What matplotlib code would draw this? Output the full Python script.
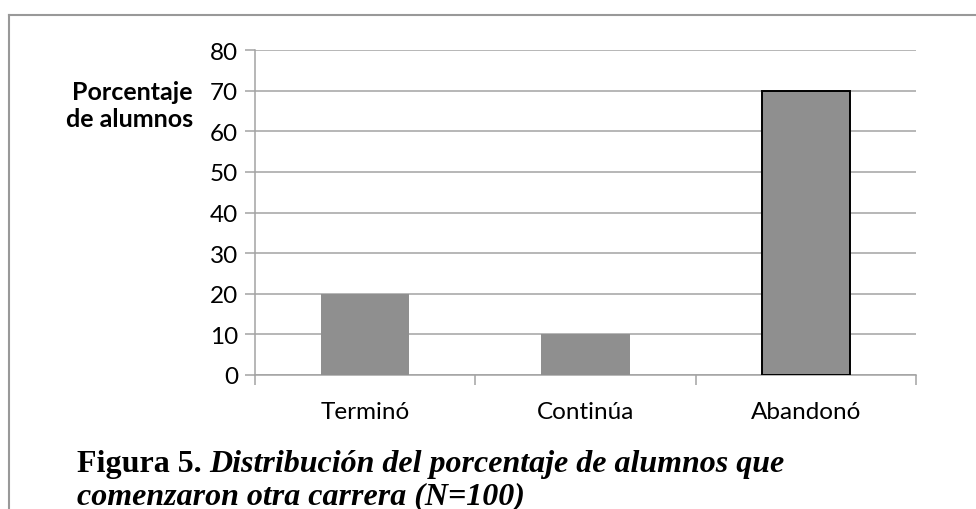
import matplotlib
matplotlib.use('Agg')
import matplotlib.pyplot as plt
from matplotlib.lines import Line2D
import numpy as np

Categorias   = ['Terminó', 'Continúa', 'Abandonó']
Porcentaje   = [20, 10, 70]
Bordes       = ['none', 'none', 'black']
YTicks       = [0, 10, 20, 30, 40, 50, 60, 70, 80]

gridColor = '#a3a3a3'
barColor  = '#8f8f8f'

plt.rcParams['font.family'] = ['Lato', 'DejaVu Sans']

fig = plt.figure(figsize=(9.76, 5.10), dpi=100)
fig.patch.set_facecolor('white')

# marco gris del recuadro (se corta a la derecha y abajo)
fig.add_artist(Line2D([9/976, 1.0], [1-16/510, 1-16/510], transform=fig.transFigure, color='#999999', lw=1.5))
fig.add_artist(Line2D([9/976, 9/976], [1-16/510, 0.0], transform=fig.transFigure, color='#999999', lw=1.5))

ax = fig.add_axes([255/976, 1-376/510, (916-255)/976, (376-51)/510])

x = np.arange(len(Categorias))
for i in range(len(Categorias)):
	lw = 1.4 if Bordes[i] != 'none' else 0
	ax.bar(x[i], Porcentaje[i], width=0.4, color=barColor, edgecolor=Bordes[i], linewidth=lw, zorder=3)

ax.set_xlim(-0.5, len(Categorias)-0.5)
ax.set_ylim(0, 80)
ax.set_yticks(YTicks)
ax.yaxis.grid(True, color=gridColor, lw=1.1, zorder=0)
ax.set_axisbelow(True)

for s in ['top', 'right']:
	ax.spines[s].set_visible(False)
for s in ['left', 'bottom']:
	ax.spines[s].set_color(gridColor)
	ax.spines[s].set_linewidth(1.1)

ax.set_xticks(x)
ax.set_xticklabels(Categorias, fontsize=17.5)
ax.set_xticks(np.arange(-0.5, len(Categorias), 1.0), minor=True)
ax.tick_params(axis='x', which='major', length=0, pad=19)
ax.tick_params(axis='x', which='minor', length=7, width=1.1, color=gridColor)
ax.tick_params(axis='y', length=7, width=1.1, color=gridColor, labelsize=17.5, pad=5)

fig.text(193/976, 1-106/510, 'Porcentaje\nde alumnos', ha='right', va='center',
	fontsize=18, fontweight='bold', linespacing=1.2)

# pie de figura
t1 = fig.text(77/976, 1-472/510, 'Figura 5. ', ha='left', va='baseline', fontsize=23,
	fontweight='bold', family='Liberation Serif')
fig.canvas.draw()
bb = t1.get_window_extent()
fig.text(bb.x1/976, 1-472/510, 'Distribución del porcentaje de alumnos que', ha='left', va='baseline',
	fontsize=23, fontweight='bold', style='italic', family='Liberation Serif')
fig.text(77/976, 1-504/510, 'comenzaron otra carrera (N=100)', ha='left', va='baseline',
	fontsize=23, fontweight='bold', style='italic', family='Liberation Serif')

plt.savefig('out.png', dpi=100)
plt.close(fig)
